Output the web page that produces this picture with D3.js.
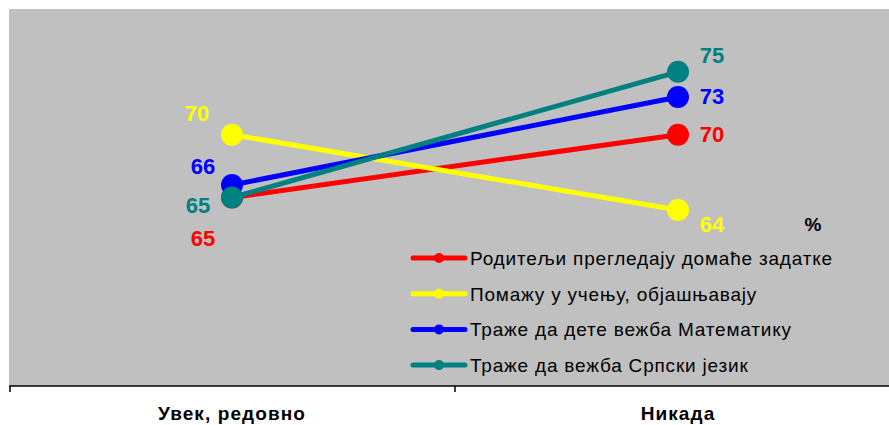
<!DOCTYPE html>
<html>
<head>
<meta charset="utf-8">
<script src="https://cdn.jsdelivr.net/npm/d3@7"></script>
<style>
  html, body { margin: 0; padding: 0; background: #fff; }
  svg { display: block; font-family: Arial, "Liberation Sans", sans-serif; }
</style>
</head>
<body>
<svg id="chart" width="889" height="425"></svg>
<script>
// Categories on the x axis
const categories = ["Увек, редовно", "Никада"];
// Series names and colours
const seriesNames = [
  "Родитељи прегледају домаће задатке",
  "Помажу у учењу, објашњавају",
  "Траже да дете вежба Математику",
  "Траже да вежба Српски језик"
];
const seriesColors = ["#FF0000", "#FFFF00", "#0000FF", "#008080"];
// Percent values per series, one per category
const parentsCheck = [65, 70];
const helpExplain = [70, 64];
const practiceMath = [66, 73];
const practiceSerbian = [65, 75];
const seriesValues = [parentsCheck, helpExplain, practiceMath, practiceSerbian];

// Label placement offsets (dx, dy) for the value labels at each end
const labelOffsetsLeft = [[-29, 48], [-35, -14], [-29, -11], [-34, 15]];
const labelOffsetsRight = [[34, 7], [34, 22], [34, 7], [34, -9]];

const svg = d3.select("#chart");
const plot = { left: 9, top: 9, right: 889, bottom: 386 };

const x = d3.scaleBand().domain(categories).range([plot.left, 901]).padding(0);
const y = d3.scaleLinear().domain([50, 80]).range([plot.bottom, plot.top]);
const cx = c => x(c) + x.bandwidth() / 2;

// Plot background
svg.append("rect")
  .attr("x", plot.left).attr("y", plot.top)
  .attr("width", plot.right - plot.left).attr("height", plot.bottom - plot.top)
  .attr("fill", "#C0C0C0");

// X axis
const xAxis = svg.append("g")
  .attr("transform", `translate(0,${plot.bottom})`)
  .call(d3.axisBottom(x).tickSize(0).tickFormat(""));
xAxis.select(".domain").remove();
xAxis.append("line")
  .attr("x1", plot.left).attr("x2", plot.right)
  .attr("y1", 0).attr("y2", 0)
  .attr("stroke", "#000").attr("stroke-width", 1.6);
// Category boundary ticks
[plot.left + 1, x(categories[1])].forEach(t => {
  xAxis.append("line")
    .attr("x1", t).attr("x2", t).attr("y1", 0).attr("y2", 6)
    .attr("stroke", "#000").attr("stroke-width", 1.5);
});
// Category labels
categories.forEach(c => {
  svg.append("text")
    .attr("x", cx(c)).attr("y", 420)
    .attr("text-anchor", "middle")
    .attr("font-size", 19).attr("font-weight", "bold")
    .attr("letter-spacing", 1.1)
    .attr("fill", "#000")
    .text(c);
});

// Lines and markers
const line = d3.line().x((d, i) => cx(categories[i])).y(d => y(d));
seriesValues.forEach((vals, s) => {
  const g = svg.append("g");
  g.append("path")
    .datum(vals)
    .attr("d", line)
    .attr("fill", "none")
    .attr("stroke", seriesColors[s])
    .attr("stroke-width", 5);
  g.selectAll("circle").data(vals).join("circle")
    .attr("cx", (d, i) => cx(categories[i]))
    .attr("cy", d => y(d))
    .attr("r", 11)
    .attr("fill", seriesColors[s]);
});

// Value labels
seriesValues.forEach((vals, s) => {
  vals.forEach((v, i) => {
    const off = i === 0 ? labelOffsetsLeft[s] : labelOffsetsRight[s];
    svg.append("text")
      .attr("x", cx(categories[i]) + off[0])
      .attr("y", y(v) + off[1])
      .attr("text-anchor", "middle")
      .attr("font-size", 22).attr("font-weight", "bold")
      .attr("fill", seriesColors[s])
      .text(v);
  });
});

// Unit label
svg.append("text")
  .attr("x", 813).attr("y", 231)
  .attr("text-anchor", "middle")
  .attr("font-size", 19).attr("font-weight", "bold")
  .attr("fill", "#000")
  .text("%");

// Legend
const legend = svg.append("g").attr("transform", "translate(413,258)");
seriesNames.forEach((name, s) => {
  const row = legend.append("g").attr("transform", `translate(0,${s * 35.7})`);
  row.append("line")
    .attr("x1", 0).attr("x2", 52).attr("y1", 0).attr("y2", 0)
    .attr("stroke", seriesColors[s]).attr("stroke-width", 5)
    .attr("stroke-linecap", "round");
  row.append("circle")
    .attr("cx", 26).attr("cy", 0).attr("r", 5)
    .attr("fill", seriesColors[s]);
  row.append("text")
    .attr("x", 57).attr("y", 7)
    .attr("font-size", 19)
    .attr("letter-spacing", 0.8)
    .attr("fill", "#000")
    .text(name);
});
</script>
</body>
</html>
